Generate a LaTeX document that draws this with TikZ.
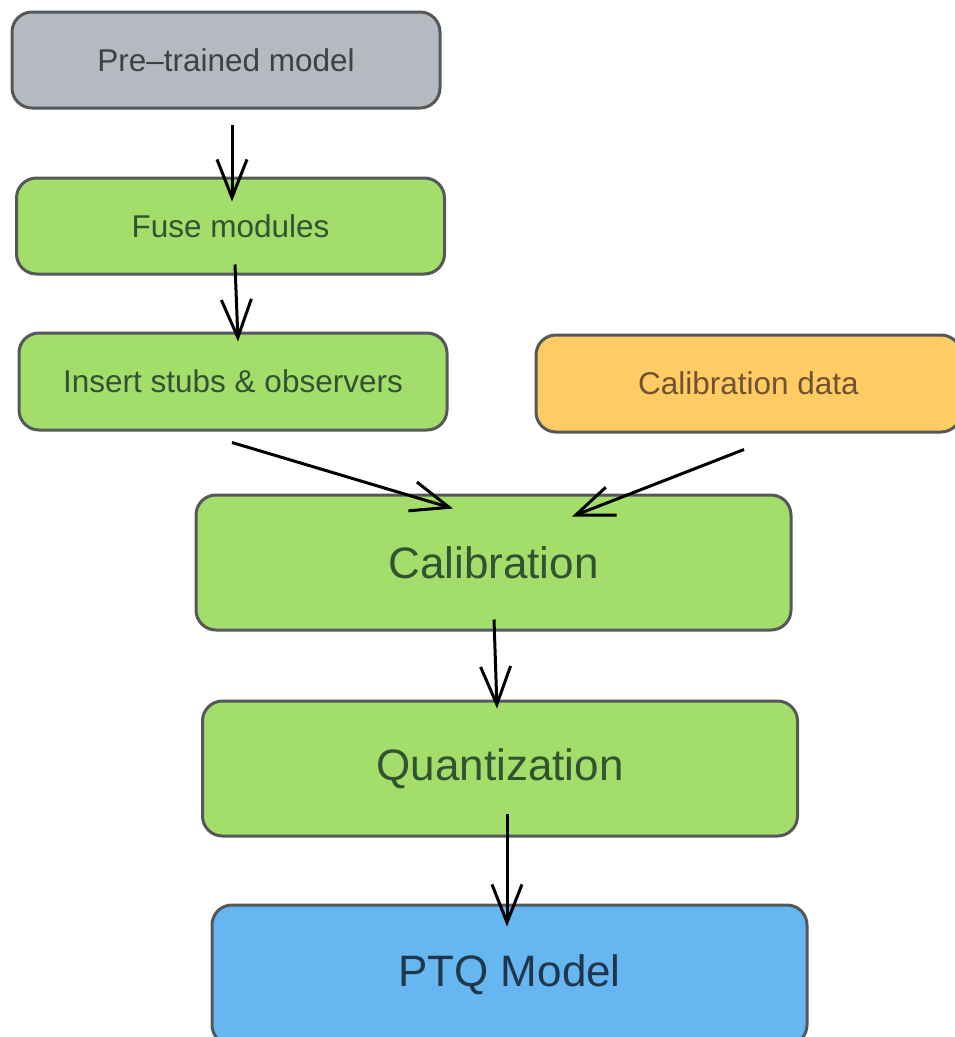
\documentclass[tikz,border=0pt]{standalone}
\usepackage{fontspec}
\setmainfont{Liberation Sans}
\usepackage{xcolor}
\usepackage{tikz}
\usetikzlibrary{arrows.meta,positioning}

\definecolor{boxgray}{HTML}{B5BAC1}
\definecolor{boxgreen}{HTML}{A3DE6A}
\definecolor{boxorange}{HTML}{FFCB63}
\definecolor{boxblue}{HTML}{66B6F2}
\definecolor{edgegray}{HTML}{555759}
\definecolor{ptqtext}{HTML}{22364A}

\begin{document}
\begin{tikzpicture}[
  x=1pt, y=-1pt,
  box/.style={draw=edgegray, line width=3pt, rounded corners=20pt,
              minimum width=428pt, minimum height=96pt, inner sep=0pt,
              font=\fontsize{31.5}{38}\selectfont},
  bigbox/.style={box, minimum width=595pt, minimum height=135pt,
                 font=\fontsize{44}{52}\selectfont},
  model/.style={box, fill=boxgray, text=black!75},
  stagebox/.style={box, fill=boxgreen, text=green!15!black!80},
  bigstage/.style={bigbox, fill=boxgreen, text=green!15!black!80},
  databox/.style={box, fill=boxorange, text=orange!30!black!80, minimum width=425pt, minimum height=97pt},
  result/.style={bigbox, fill=boxblue, text=ptqtext, minimum height=140pt},
  arr/.style={-{Straight Barb[length=38pt,width=30pt]}, line width=3pt, black}
]
\useasboundingbox (0,0) rectangle (954,1037);
% --- pipeline ---
\node[model] (pre) at (226,60) {Pre–trained model};
\node[stagebox, below=67pt of pre, xshift=4.5pt] (fuse) {Fuse modules};
\node[stagebox, below=56pt of fuse, xshift=2.5pt, minimum height=97pt] (ins) {Insert stubs \& observers};
\node[databox, right=86pt of ins, yshift=-2pt] (cdata) {Calibration data};
\node[bigstage, below=62pt of ins, xshift=260.5pt] (cal) {Calibration};
\node[bigstage, below=68pt of cal, xshift=6.5pt] (quant) {Quantization};
\node[result, below=66pt of quant, xshift=9.5pt] (ptq) {PTQ Model};
% --- arrows ---
\draw[arr] ([xshift=6pt,yshift=-15pt]pre.south) -- ([xshift=1.5pt,yshift=-25pt]fuse.north);
\draw[arr] ([xshift=4.5pt,yshift=11pt]fuse.south) -- ([xshift=5pt,yshift=-10pt]ins.north);
\draw[arr] ([xshift=-1pt,yshift=-11pt]ins.south) -- ([xshift=-40.5pt,yshift=-15pt]cal.north);
\draw[arr] ([xshift=-4.5pt,yshift=-16pt]cdata.south) -- ([xshift=78.5pt,yshift=-23pt]cal.north);
\draw[arr] ([xshift=0.5pt,yshift=12pt]cal.south) -- ([xshift=-3pt,yshift=-9pt]quant.north);
\draw[arr] ([xshift=7pt,yshift=24pt]quant.south) -- ([xshift=-2.5pt,yshift=-23pt]ptq.north);
\end{tikzpicture}
\end{document}
